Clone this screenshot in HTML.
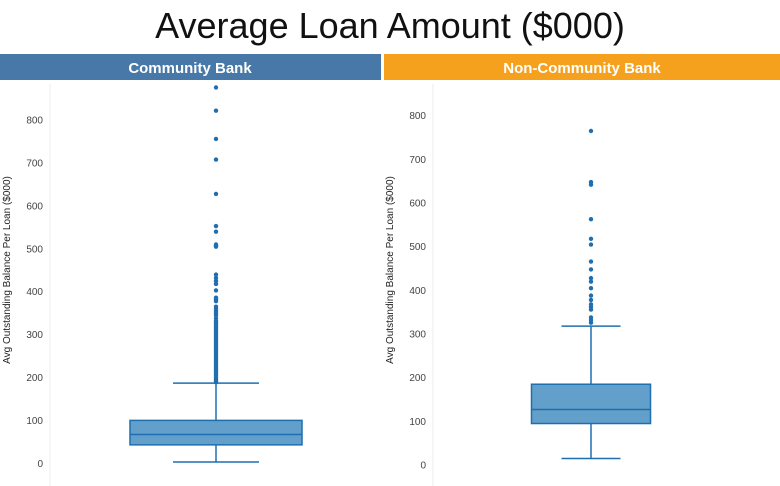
<!DOCTYPE html>
<html><head><meta charset="utf-8">
<style>
body{margin:0;width:780px;height:486px;background:#fff;font-family:"Liberation Sans",sans-serif;overflow:hidden}
svg{display:block}
</style></head>
<body>
<svg id="c" width="780" height="486" xmlns="http://www.w3.org/2000/svg">
<text x="390" y="38" text-anchor="middle" font-size="36" fill="#111">Average Loan Amount ($000)</text>
<rect x="0" y="54" width="381" height="26" fill="#4878a8"/>
<text x="190" y="73" text-anchor="middle" font-size="15" font-weight="bold" fill="#fff">Community Bank</text>
<rect x="384" y="54" width="396" height="26" fill="#f6a11e"/>
<text x="582" y="73" text-anchor="middle" font-size="15" font-weight="bold" fill="#fff">Non-Community Bank</text>
<g id="p1"></g><g id="p2"></g>
</svg>
<script>
const ticks=[0,100,200,300,400,500,600,700,800];
const cbStats=[3,43,67,100,187];
const cbOutliers=[876,822,756,708,628,553,540,510,507,505,440,432,425,418,403,386,382,378,365,360,355,350,345,338,332,328,324,320,316,312,308,304,300,296,292,288,284,280,276,272,268,264,260,256,252,248,244,240,236,232,228,224,220,216,212,208,204,200,196,192,189];
const ncStats=[15,95,127,185,318];
const ncOutliers=[765,648,642,563,518,505,466,448,428,420,405,388,378,368,362,356,338,332,326];
const NS='http://www.w3.org/2000/svg';
function mk(parent,tag,attrs){const e=document.createElementNS(NS,tag);for(const k in attrs)e.setAttribute(k,attrs[k]);parent.appendChild(e);return e;}
function panel(gid,axisX,y0,pxPer100,cx,halfBox,halfCap,stats,outs,prefix){
  const g=document.getElementById(gid);
  const y=v=>y0-v*pxPer100/100;
  const ax=mk(g,'line',{x1:axisX,x2:axisX,y1:84,y2:486,stroke:'#eee','stroke-width':1});
  
  
  ticks.forEach(t=>{
    const tx=mk(g,'text',{x:axisX-7,y:y(t)+3.5,'text-anchor':'end','font-size':10,fill:'#444'});
    tx.textContent=t;
    
    
  });
  const tl=mk(g,'text',{transform:`translate(${axisX-40},270) rotate(-90)`,'text-anchor':'middle','font-size':10,fill:'#222'});
  tl.textContent='Avg Outstanding Balance Per Loan ($000)';
  
  
  const [mn,q1,md,q3,mx]=stats;
  const c='#1f6fb0';
  const w1=mk(g,'line',{x1:cx,x2:cx,y1:y(mn),y2:y(q1),stroke:c,'stroke-width':1.5});
  
  
  const w2=mk(g,'line',{x1:cx,x2:cx,y1:y(q3),y2:y(mx),stroke:c,'stroke-width':1.5});
  
  
  const c1=mk(g,'line',{x1:cx-halfCap,x2:cx+halfCap,y1:y(mn),y2:y(mn),stroke:c,'stroke-width':1.5});
  
  
  const c2=mk(g,'line',{x1:cx-halfCap,x2:cx+halfCap,y1:y(mx),y2:y(mx),stroke:c,'stroke-width':1.5});
  
  
  const b=mk(g,'rect',{x:cx-halfBox,y:y(q3),width:2*halfBox,height:y(q1)-y(q3),fill:'#62a0cb',stroke:c,'stroke-width':1.5});
  
  
  const m=mk(g,'line',{x1:cx-halfBox,x2:cx+halfBox,y1:y(md),y2:y(md),stroke:c,'stroke-width':1.5});
  
  
  outs.forEach(v=>{
    const p=mk(g,'circle',{cx:cx,cy:y(v),r:2.2,fill:'#1f6fb0'});
    
    
  });
}
panel('p1',50,463.3,42.9,216,86,43,cbStats,cbOutliers,'community');
panel('p2',433,465,43.66,591,59.5,29.5,ncStats,ncOutliers,'noncommunity');
</script>
</body></html>
